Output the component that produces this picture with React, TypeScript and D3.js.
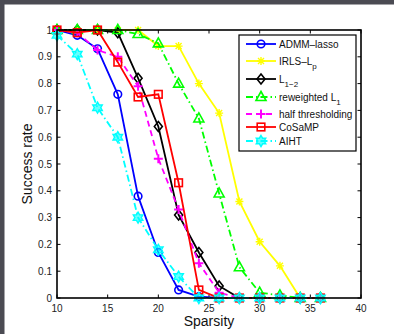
import React from "react";
import * as d3 from "d3";

// sparsity levels (x) and success rates
const sparsity = [10, 12, 14, 16, 18, 20, 22, 24, 26, 28, 30, 32, 34, 36];
const admmLasso = [1, 0.98, 0.93, 0.76, 0.38, 0.17, 0.03, 0.005, 0, 0, 0, 0, 0, 0];
const irlsLp = [1, 1, 1, 1, 1, 0.94, 0.94, 0.8, 0.69, 0.36, 0.21, 0.12, 0, 0];
const l12 = [1, 1, 1, 0.99, 0.82, 0.64, 0.31, 0.17, 0.045, 0, 0, 0, 0, 0];
const reweightedL1 = [1, 1, 1, 1, 0.985, 0.95, 0.8, 0.67, 0.39, 0.115, 0.02, 0.01, 0, 0];
const halfThresh = [1, 0.99, 0.925, 0.9, 0.79, 0.52, 0.33, 0.13, 0.02, 0, 0, 0, 0, 0];
const cosamp = [1, 0.99, 1, 0.88, 0.75, 0.76, 0.43, 0.03, 0, 0, 0, 0, 0, 0];
const aiht = [0.98, 0.91, 0.71, 0.6, 0.3, 0.18, 0.08, 0, 0, 0, 0, 0, 0, 0];

const xTicks = [10, 15, 20, 25, 30, 35, 40];
const yTicks = [0, 0.1, 0.2, 0.3, 0.4, 0.5, 0.6, 0.7, 0.8, 0.9, 1];

type Series = {
  name: string;
  sub?: string;
  values: number[];
  color: string;
  dash?: string;
  marker: string;
};

const series: Series[] = [
  { name: "ADMM\u2013lasso", values: admmLasso, color: "#0000ff", marker: "circle" },
  { name: "IRLS\u2013L", sub: "p", values: irlsLp, color: "#ffff00", marker: "star" },
  { name: "L", sub: "1\u22122", values: l12, color: "#000000", marker: "diamond" },
  { name: "reweighted L", sub: "1", values: reweightedL1, color: "#00ff00", dash: "7,3,1.5,3", marker: "triangle" },
  { name: "half thresholding", values: halfThresh, color: "#ff00ff", dash: "6,4", marker: "plus" },
  { name: "CoSaMP", values: cosamp, color: "#ff0000", marker: "square" },
  { name: "AIHT", values: aiht, color: "#00ffff", dash: "7,3,1.5,3", marker: "hexagram" },
];

const left = 57, right = 361, top = 30, bottom = 298;
const font = "'Liberation Sans', Arial, Helvetica, sans-serif";

const x = d3.scaleLinear().domain([10, 40]).range([left, right]);
const y = d3.scaleLinear().domain([0, 1]).range([bottom, top]);

const Marker = ({ kind, cx, cy, color }: { kind: string; cx: number; cy: number; color: string }) => {
  const sw = 1.6;
  if (kind === "circle")
    return <circle cx={cx} cy={cy} r={3.8} fill="none" stroke={color} strokeWidth={sw} />;
  if (kind === "square")
    return <rect x={cx - 3.8} y={cy - 3.8} width={7.6} height={7.6} fill="none" stroke={color} strokeWidth={sw} />;
  if (kind === "diamond")
    return <path d={`M${cx},${cy - 5}L${cx + 4},${cy}L${cx},${cy + 5}L${cx - 4},${cy}Z`} fill="none" stroke={color} strokeWidth={sw} />;
  if (kind === "triangle")
    return <path d={`M${cx},${cy - 5.5}L${cx + 5},${cy + 3.5}L${cx - 5},${cy + 3.5}Z`} fill="none" stroke={color} strokeWidth={sw} />;
  if (kind === "plus")
    return <path d={`M${cx - 4.5},${cy}H${cx + 4.5}M${cx},${cy - 4.5}V${cy + 4.5}`} stroke={color} strokeWidth={sw + 0.4} />;
  if (kind === "star")
    return (
      <path
        d={`M${cx - 4},${cy}H${cx + 4}M${cx},${cy - 4}V${cy + 4}M${cx - 3},${cy - 3}L${cx + 3},${cy + 3}M${cx - 3},${cy + 3}L${cx + 3},${cy - 3}`}
        stroke={color}
        strokeWidth={1.4}
      />
    );
  // hexagram
  const r = 5.5, ri = 3.2;
  const pts = d3.range(12).map((i) => {
    const a = (i * Math.PI) / 6 - Math.PI / 2;
    const rr = i % 2 === 0 ? r : ri;
    return [cx + rr * Math.cos(a), cy + rr * Math.sin(a)];
  });
  return <path d={"M" + pts.map((p) => p.join(",")).join("L") + "Z"} fill={color} fillOpacity={0.6} stroke={color} strokeWidth={1.4} />;
};

export default function App() {
  const line = d3
    .line<number>()
    .x((_, i) => x(sparsity[i]))
    .y((d) => y(d));

  const legendRows = [44, 61, 79, 97, 114, 127, 141];

  return (
    <svg width={394} height={334} style={{ position: "absolute", left: 0, top: 0 }}>
      <rect x={0} y={0} width={394} height={334} fill="#ffffff" />
      <rect x={0} y={0} width={394} height={4.5} fill="#4b4b53" />
      <rect x={0} y={0} width={4.5} height={334} fill="#4b4b53" />

      {/* ticks */}
      {xTicks.map((t) => (
        <g key={"xt" + t}>
          <line x1={x(t)} x2={x(t)} y1={bottom} y2={bottom - 3.5} stroke="#000" strokeWidth={1} />
          <line x1={x(t)} x2={x(t)} y1={top} y2={top + 3.5} stroke="#000" strokeWidth={1} />
          <text x={x(t)} y={312} textAnchor="middle" fontSize={10} fontFamily={font} fill="#222">
            {t}
          </text>
        </g>
      ))}
      {yTicks.map((t) => (
        <g key={"yt" + t}>
          <line x1={left} x2={left + 3.5} y1={y(t)} y2={y(t)} stroke="#000" strokeWidth={1} />
          <line x1={right} x2={right - 3.5} y1={y(t)} y2={y(t)} stroke="#000" strokeWidth={1} />
          <text x={52} y={y(t) + 3.5} textAnchor="end" fontSize={10} fontFamily={font} fill="#222">
            {t}
          </text>
        </g>
      ))}

      {/* series */}
      {series.map((s) => (
        <g key={s.name}>
          <path d={line(s.values) || ""} fill="none" stroke={s.color} strokeWidth={1.8} strokeDasharray={s.dash} />
          {s.values.map((v, i) => (
            <Marker key={i} kind={s.marker} cx={x(sparsity[i])} cy={y(v)} color={s.color} />
          ))}
        </g>
      ))}

      {/* axes box */}
      <rect x={left} y={top} width={right - left} height={bottom - top} fill="none" stroke="#000" strokeWidth={1.6} />

      {/* legend */}
      <rect x={239} y={35} width={117} height={116} fill="#fff" stroke="#000" strokeWidth={1.2} />
      {series.map((s, i) => {
        const ry = legendRows[i];
        return (
          <g key={"lg" + s.name}>
            <line x1={246} x2={276} y1={ry} y2={ry} stroke={s.color} strokeWidth={1.8} strokeDasharray={s.dash} />
            <Marker kind={s.marker} cx={261} cy={ry} color={s.color} />
            <text x={279} y={ry + 3.5} fontSize={10} fontFamily={font} fill="#111">
              {s.name}
              {s.sub && (
                <tspan dy={4} fontSize={8}>
                  {s.sub}
                </tspan>
              )}
            </text>
          </g>
        );
      })}

      {/* axis labels */}
      <text x={209} y={326} textAnchor="middle" fontSize={14} fontFamily={font} fill="#111">
        Sparsity
      </text>
      <text
        transform={`translate(32,${(top + bottom) / 2}) rotate(-90)`}
        textAnchor="middle"
        fontSize={14}
        fontFamily={font}
        fill="#111"
      >
        Success rate
      </text>
    </svg>
  );
}
